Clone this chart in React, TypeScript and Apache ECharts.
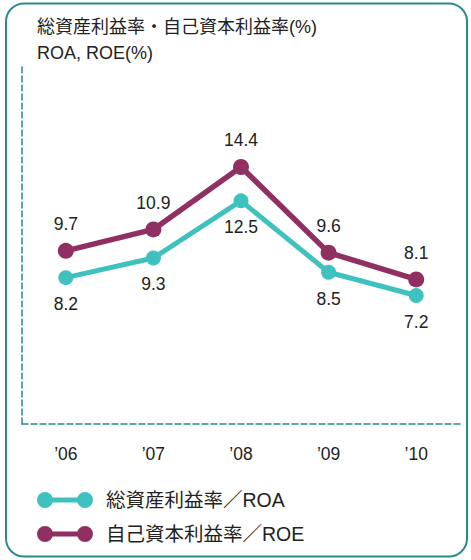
import React, { useEffect, useRef } from "react";
import * as echarts from "echarts";

const categories = ["’06", "’07", "’08", "’09", "’10"];
const roaValues = [8.2, 9.3, 12.5, 8.5, 7.2];
const roeValues = [9.7, 10.9, 14.4, 9.6, 8.1];
const seriesNames = ["総資産利益率／ROA", "自己資本利益率／ROE"];
const titleText = "総資産利益率・自己資本利益率(%)\nROA, ROE(%)";

const FONT = "'Liberation Sans', Arial, 'Noto Sans CJK JP', sans-serif";
const TEAL = "#3fc1c0";
const MAROON = "#903062";
const FRAME = "#2a8c88";

const legendIcon =
  "path://M0,8 a8,8 0 1,1 16,0 a8,8 0 1,1 -16,0 Z M14,5.5 h28 v5 h-28 Z M40,8 a8,8 0 1,1 16,0 a8,8 0 1,1 -16,0 Z";

export default function App() {
  const ref = useRef<HTMLDivElement>(null);
  useEffect(() => {
    document.body.style.margin = "0";
    if (!ref.current) return;
    const chart = echarts.init(ref.current, null, { renderer: "svg" });
    chart.setOption({
      animation: false,
      backgroundColor: "#ffffff",
      textStyle: { fontFamily: FONT },
      title: {
        text: titleText,
        left: 32,
        top: 9,
        textStyle: {
          fontFamily: FONT,
          fontSize: 18,
          fontWeight: "normal",
          color: "#222222",
          lineHeight: 26,
        },
      },
      graphic: [
        {
          type: "rect",
          shape: { x: 6, y: 3.5, width: 461, height: 553, r: 18 },
          style: { fill: "none", stroke: FRAME, lineWidth: 2 },
          silent: true,
        },
      ],
      legend: {
        orient: "vertical",
        left: 32,
        top: 485,
        itemGap: 14,
        itemWidth: 56,
        itemHeight: 16,
        icon: legendIcon,
        itemStyle: { borderWidth: 0 },
        textStyle: {
          fontFamily: FONT,
          fontSize: 19.5,
          color: "#222222",
          lineHeight: 20,
          padding: [0, 0, 0, 8],
        },
        data: seriesNames,
      },
      grid: { left: 22, right: 11, top: 67, bottom: 136 },
      xAxis: {
        type: "category",
        data: categories,
        boundaryGap: true,
        axisLine: {
          show: true,
          lineStyle: { color: FRAME, width: 1.5, type: [6, 3] },
        },
        axisTick: { show: false },
        axisLabel: {
          margin: 21,
          fontFamily: FONT,
          fontSize: 17.5,
          color: "#222222",
        },
        splitLine: { show: false },
      },
      yAxis: {
        type: "value",
        min: 0,
        max: 20,
        axisLine: {
          show: true,
          lineStyle: { color: FRAME, width: 1.5, type: [6, 3] },
        },
        axisTick: { show: false },
        axisLabel: { show: false },
        splitLine: { show: false },
      },
      series: [
        {
          name: seriesNames[0],
          type: "line",
          data: roaValues,
          symbol: "circle",
          symbolSize: 15,
          lineStyle: { color: TEAL, width: 5 },
          itemStyle: { color: TEAL, borderWidth: 0 },
          label: {
            show: true,
            position: "bottom",
            distance: 10,
            fontFamily: FONT,
            fontSize: 17.5,
            color: "#222222",
          },
          z: 2,
        },
        {
          name: seriesNames[1],
          type: "line",
          data: roeValues,
          symbol: "circle",
          symbolSize: 16,
          lineStyle: { color: MAROON, width: 5.5 },
          itemStyle: { color: MAROON, borderWidth: 0 },
          label: {
            show: true,
            position: "top",
            distance: 10,
            fontFamily: FONT,
            fontSize: 17.5,
            color: "#222222",
          },
          z: 3,
        },
      ],
    });
    return () => chart.dispose();
  }, []);
  return <div ref={ref} style={{ width: 471, height: 560 }} />;
}
